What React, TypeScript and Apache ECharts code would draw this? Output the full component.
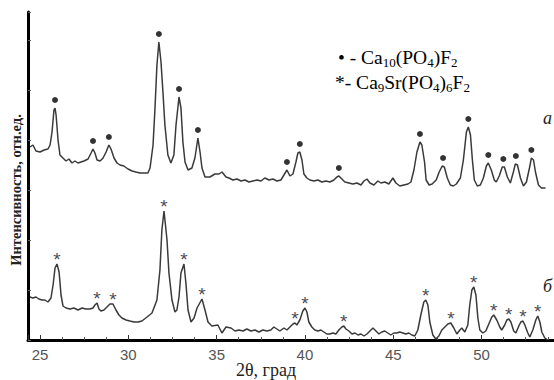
import React, { useEffect, useRef } from "react";
import * as echarts from "echarts";

// 2θ (degrees) and intensity (arb. units) — pattern "a" (upper trace)
const thetaA = [
  24.43, 24.6, 24.77, 25.0, 25.23, 25.45, 25.57, 25.68, 25.79, 25.85, 25.91, 26.02, 26.13, 26.3, 26.47, 26.64, 26.81, 26.98,
  27.15, 27.32, 27.49, 27.72, 27.89, 28.0, 28.11, 28.23, 28.4, 28.57, 28.74, 28.9, 29.02, 29.19, 29.36, 29.53, 29.75, 29.98,
  30.21, 30.43, 30.66, 30.89, 31.11, 31.23, 31.4, 31.51, 31.62, 31.73, 31.85, 31.96, 32.07, 32.24, 32.41, 32.58, 32.7, 32.87,
  32.98, 33.09, 33.21, 33.38, 33.6, 33.77, 33.94, 34.06, 34.17, 34.34, 34.62, 34.9, 35.13, 35.3, 35.53, 35.7, 35.92, 36.15,
  36.38, 36.6, 36.83, 37.05, 37.28, 37.51, 37.73, 37.96, 38.19, 38.41, 38.64, 38.81, 38.98, 39.15, 39.32, 39.49, 39.6, 39.71,
  39.83, 39.94, 40.11, 40.28, 40.51, 40.73, 40.96, 41.19, 41.41, 41.64, 41.81, 41.92, 42.09, 42.26, 42.49, 42.71, 42.94, 43.17,
  43.34, 43.51, 43.68, 43.9, 44.13, 44.3, 44.52, 44.75, 44.98, 45.15, 45.37, 45.6, 45.83, 46.0, 46.17, 46.34, 46.51, 46.62,
  46.77, 46.86, 47.03, 47.2, 47.43, 47.6, 47.77, 47.89, 48.06, 48.23, 48.4, 48.57, 48.8, 48.97, 49.14, 49.25, 49.37, 49.48,
  49.59, 49.76, 49.93, 50.1, 50.27, 50.38, 50.55, 50.72, 50.83, 51.0, 51.17, 51.29, 51.46, 51.63, 51.8, 51.91, 52.03, 52.2,
  52.37, 52.54, 52.71, 52.82, 52.94, 53.05, 53.22, 53.39, 53.62,
];
const intensityA = [
  193, 195, 189, 188, 190, 191, 195, 208, 230, 232, 225, 200, 185, 182, 179, 181, 177, 179,
  177, 178, 179, 181, 187, 191, 187, 180, 179, 182, 188, 195, 191, 182, 177, 175, 174, 171,
  169, 168, 167, 167, 167, 172, 195, 232, 275, 298, 278, 248, 215, 185, 177, 185, 215, 243,
  232, 198, 178, 170, 172, 182, 202, 188, 172, 163, 163, 166, 166, 168, 163, 162, 160, 161,
  159, 160, 158, 159, 160, 159, 162, 160, 161, 159, 160, 165, 170, 164, 166, 178, 187, 188,
  180, 166, 162, 160, 159, 160, 158, 159, 158, 160, 163, 164, 161, 158, 157, 156, 157, 155,
  159, 161, 157, 155, 159, 157, 158, 156, 162, 157, 154, 155, 156, 158, 170, 188, 198, 195,
  178, 160, 155, 156, 160, 168, 174, 173, 162, 155, 154, 156, 162, 180, 208, 213, 205, 180,
  160, 154, 155, 162, 174, 177, 170, 160, 158, 164, 173, 173, 163, 157, 168, 176, 175, 162,
  154, 158, 172, 182, 180, 168, 155, 152, 152,
];

// pattern "б" (lower trace)
const thetaB = [
  24.43, 24.6, 24.77, 24.94, 25.11, 25.28, 25.45, 25.62, 25.74, 25.85, 25.96, 26.08, 26.19, 26.3, 26.47, 26.7, 26.92, 27.15,
  27.38, 27.6, 27.83, 28.0, 28.11, 28.23, 28.34, 28.45, 28.62, 28.79, 28.96, 29.13, 29.3, 29.47, 29.64, 29.87, 30.09, 30.32,
  30.55, 30.77, 31.06, 31.34, 31.62, 31.79, 31.9, 32.02, 32.19, 32.3, 32.47, 32.64, 32.75, 32.87, 32.98, 33.15, 33.26, 33.38,
  33.55, 33.72, 33.89, 34.17, 34.34, 34.51, 34.73, 35.07, 35.3, 35.53, 35.81, 36.04, 36.26, 36.49, 36.71, 36.94, 37.17, 37.39,
  37.62, 37.85, 38.07, 38.24, 38.41, 38.58, 38.81, 38.98, 39.15, 39.32, 39.43, 39.54, 39.71, 39.88, 40.0, 40.11, 40.22, 40.39,
  40.56, 40.73, 40.9, 41.07, 41.24, 41.41, 41.58, 41.75, 41.92, 42.09, 42.2, 42.32, 42.49, 42.66, 42.83, 43.0, 43.17, 43.34,
  43.51, 43.68, 43.85, 44.02, 44.19, 44.35, 44.52, 44.69, 44.86, 45.03, 45.2, 45.37, 45.54, 45.71, 45.88, 46.05, 46.22, 46.39,
  46.56, 46.73, 46.84, 46.96, 47.07, 47.24, 47.41, 47.58, 47.75, 47.92, 48.09, 48.26, 48.43, 48.6, 48.77, 48.88, 49.05, 49.22,
  49.33, 49.45, 49.56, 49.68, 49.79, 49.9, 50.07, 50.24, 50.41, 50.58, 50.69, 50.86, 51.03, 51.14, 51.31, 51.43, 51.54, 51.66,
  51.82, 51.94, 52.11, 52.22, 52.34, 52.45, 52.62, 52.73, 52.9, 53.07, 53.18, 53.3, 53.41, 53.58, 53.75,
];
const intensityB = [
  43, 42, 43, 41, 40, 40, 38, 42, 55, 72, 76, 68, 45, 34, 32, 31, 32, 30,
  32, 31, 31, 32, 35, 37, 31, 29, 30, 33, 36, 36, 30, 25, 22, 20, 19, 18,
  18, 19, 23, 27, 40, 70, 110, 129, 100, 67, 40, 28, 30, 43, 67, 76, 57, 30,
  18, 22, 32, 41, 30, 18, 14, 15, 7, 13, 12, 9, 10, 9, 11, 9, 10, 8,
  10, 9, 10, 13, 11, 9, 12, 10, 13, 16, 17, 15, 20, 29, 32, 28, 18, 13,
  10, 9, 10, 8, 6, 6, 7, 6, 10, 13, 14, 11, 9, 6, 7, 5, 6, 4,
  6, 9, 12, 9, 6, 8, 9, 7, 5, 7, 7, 8, 7, 6, 7, 5, 4, 10,
  25, 38, 40, 35, 18, 5, 1, 4, 10, 13, 16, 17, 12, 6, 10, 12, 8, 15,
  35, 50, 53, 45, 22, 10, 7, 9, 16, 23, 25, 20, 13, 10, 15, 20, 21, 18,
  9, 7, 14, 18, 19, 15, 7, 3, 10, 20, 24, 18, 8, 2, 0,
];

// Ca10(PO4)F2 reflections marked with dots on pattern "a"
const peakThetaA = [25.85, 28.0, 28.9, 31.73, 32.87, 33.94, 38.98, 39.71, 41.92, 46.51, 47.82, 49.25, 50.38, 51.23, 51.94, 52.82];
const peakHeightA = [232, 191, 195, 298, 243, 202, 170, 188, 164, 198, 174, 213, 177, 173, 176, 182];

// Ca9Sr(PO4)6F2 reflections marked with asterisks on pattern "б"
const peakThetaB = [25.96, 28.23, 29.13, 32.02, 33.15, 34.17, 39.43, 40.0, 42.2, 46.84, 48.26, 49.56, 50.69, 51.54, 52.34, 53.18];
const peakHeightB = [76, 37, 36, 129, 76, 41, 17, 32, 14, 40, 17, 53, 25, 21, 19, 24];

const xMin = 24.32;
const xMax = 54.1;
const yMin = 0;
const yMax = 328;

const zip = (a: number[], b: number[]) => a.map((v, i) => [v, b[i]]);

export default function App() {
  const ref = useRef<HTMLDivElement>(null);
  useEffect(() => {
    if (!ref.current) return;
    const chart = echarts.init(ref.current, null, { renderer: "svg" });
    const serif = "Liberation Serif";
    const sans = "Liberation Sans";
    const sub = { fontSize: 13, fontFamily: serif, color: "#111", verticalAlign: "bottom" as const, lineHeight: 24 };
    const base = { fontSize: 19.5, fontFamily: serif, color: "#111", lineHeight: 24 };
    chart.setOption({
      animation: false,
      backgroundColor: "#fff",
      grid: { left: 28, right: 0, top: 12, bottom: 40, containLabel: false },
      xAxis: {
        type: "value",
        min: xMin,
        max: xMax,
        splitNumber: 6,
        axisLine: { show: true, onZero: false, lineStyle: { color: "#000", width: 3 } },
        axisTick: { show: true, inside: true, length: 5, lineStyle: { color: "#333", width: 1 } },
        minorTick: { show: true, splitNumber: 4, length: 3, lineStyle: { color: "#555" } },
        splitLine: { show: false },
        axisLabel: {
          showMinLabel: false,
          showMaxLabel: false,
          color: "#555",
          fontSize: 15,
          fontFamily: sans,
          margin: 7,
          formatter: (v: number) => (Math.abs(v / 5 - Math.round(v / 5)) < 1e-6 ? String(v) : ""),
        },
      },
      yAxis: {
        type: "value",
        min: yMin,
        max: yMax,
        interval: 50,
        axisLine: { show: true, onZero: false, lineStyle: { color: "#000", width: 3 } },
        axisTick: { show: true, inside: true, length: 3, lineStyle: { color: "#666" } },
        axisLabel: { show: false },
        splitLine: { show: false },
      },
      series: [
        {
          type: "line",
          data: zip(thetaA, intensityA),
          showSymbol: false,
          symbol: "none",
          lineStyle: { color: "#3a3a3a", width: 1.5 },
          z: 3,
        },
        {
          type: "line",
          data: zip(thetaB, intensityB),
          showSymbol: false,
          symbol: "none",
          lineStyle: { color: "#3a3a3a", width: 1.5 },
          z: 3,
        },
        {
          type: "scatter",
          data: zip(peakThetaA, peakHeightA),
          symbol: "circle",
          symbolSize: 6,
          symbolOffset: [0, -8],
          itemStyle: { color: "#000" },
          z: 4,
        },
        {
          type: "scatter",
          data: zip(peakThetaB, peakHeightB),
          symbol: "circle",
          symbolSize: 1,
          itemStyle: { color: "rgba(0,0,0,0)" },
          label: {
            show: true,
            position: "inside",
            offset: [0, -5],
            formatter: "*",
            fontSize: 19,
            color: "#15152a",
            textBorderWidth: 0,
            fontFamily: sans,
          },
          z: 4,
        },
      ],
      graphic: [
        {
          type: "text",
          x: 338,
          y: 57,
          style: {
            text: "{b|• - Ca}{s|10}{b|(PO}{s|4}{b|)F}{s|2}",
            rich: { b: base, s: sub },
            textVerticalAlign: "middle",
          },
        },
        {
          type: "text",
          x: 335,
          y: 82,
          style: {
            text: "{b|*- Ca}{s|9}{b|Sr(PO}{s|4}{b|)}{s|6}{b|F}{s|2}",
            rich: { b: base, s: sub },
            textVerticalAlign: "middle",
          },
        },
        {
          type: "text",
          x: 543,
          y: 118,
          style: { text: "a", fontFamily: serif, fontStyle: "italic", fontSize: 18, fill: "#222", textVerticalAlign: "middle" },
        },
        {
          type: "text",
          x: 543,
          y: 286,
          style: { text: "б", fontFamily: serif, fontStyle: "italic", fontSize: 18, fill: "#222", textVerticalAlign: "middle" },
        },
        {
          type: "text",
          x: 266,
          y: 370,
          style: { text: "2θ, град", fontFamily: serif, fontSize: 18, fill: "#222", textAlign: "center", textVerticalAlign: "middle" },
        },
        {
          type: "text",
          x: 16,
          y: 190,
          rotation: Math.PI / 2,
          style: {
            text: "Интенсивность, отн.ед.",
            fontFamily: serif,
            fontWeight: "bold",
            fontSize: 14.5,
            fill: "#222",
            textAlign: "center",
            textVerticalAlign: "middle",
          },
        },
      ],
    });
    return () => chart.dispose();
  }, []);
  return <div ref={ref} style={{ width: 554, height: 380, position: "absolute", left: 0, top: 0 }} />;
}
